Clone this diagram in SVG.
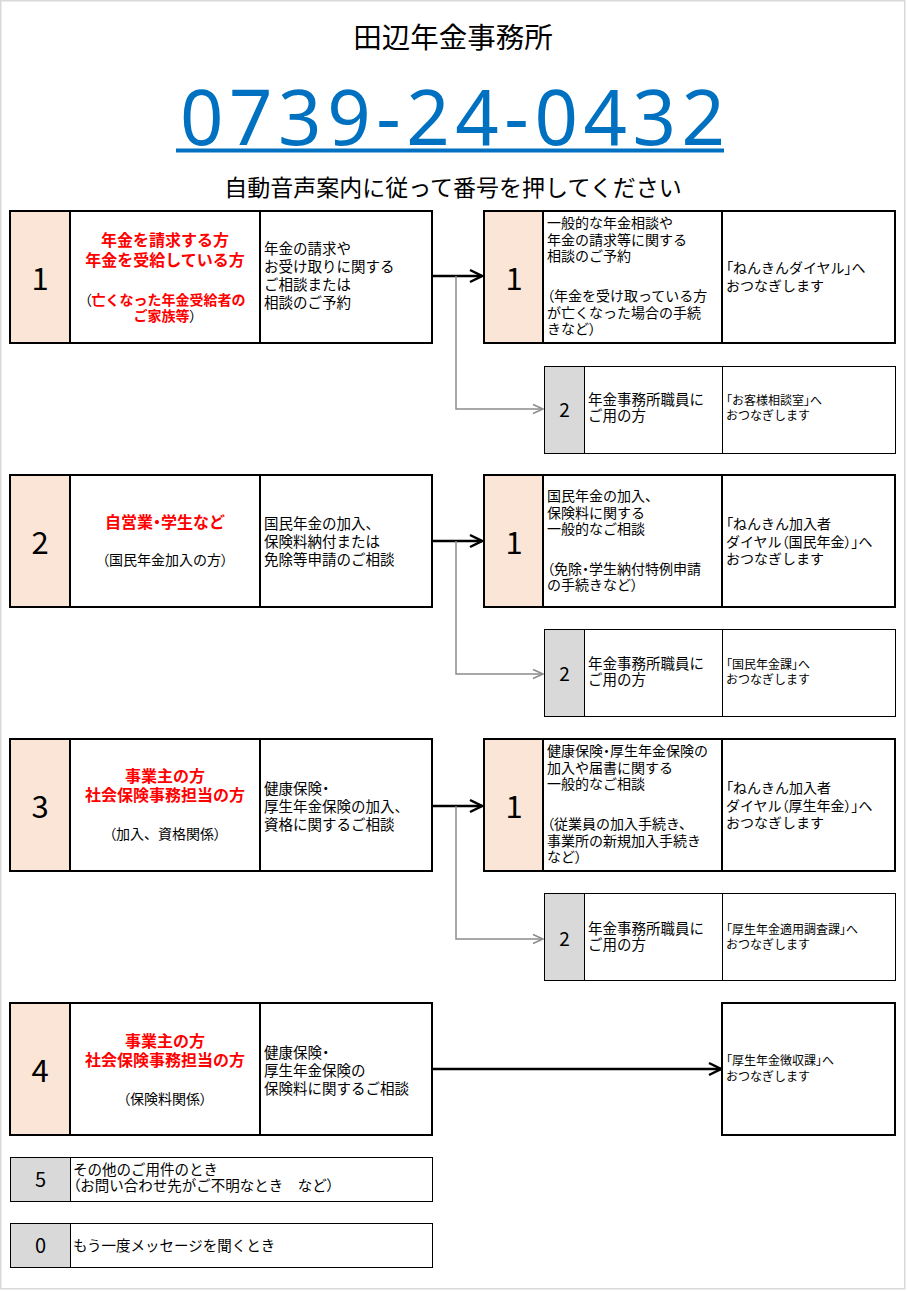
<svg xmlns="http://www.w3.org/2000/svg" width="907" height="1291" viewBox="0 0 907 1291">
<style>
text{font-family:"Noto Sans CJK JP","Noto Sans",sans-serif;fill:#000}
.k{font-feature-settings:"palt"}
.box{fill:#fff;stroke:#000;stroke-width:2}
.sbox{fill:#fff;stroke:#000;stroke-width:1}
.peach{fill:#FBE5D6;stroke:#000;stroke-width:2}
.gray{fill:#D9D9D9;stroke:#000;stroke-width:1}
.div{stroke:#000;stroke-width:2}
.sdiv{stroke:#000;stroke-width:1}
.num{font-size:31px;text-anchor:middle}
.snum{font-size:19px;text-anchor:middle}
.red{font-size:16px;font-weight:bold;fill:#FF0000;text-anchor:middle}
.redp{font-size:14px;font-weight:bold;fill:#FF0000;text-anchor:middle}
.paren{font-weight:normal;fill:#000}
.sub{font-size:14px;text-anchor:middle}
.t{font-size:14.5px}
.r{font-size:14px}
.st{font-size:14.5px}
.s{font-size:12px}
</style>
<defs>
<marker id="ab" markerUnits="userSpaceOnUse" markerWidth="16" markerHeight="16" viewBox="0 0 16 16" refX="14" refY="8" orient="auto">
<path d="M2,2 L14,8 L2,14" fill="none" stroke="#000" stroke-width="2.5"/>
</marker>
<marker id="ag" markerUnits="userSpaceOnUse" markerWidth="14" markerHeight="14" viewBox="0 0 14 14" refX="12" refY="7" orient="auto">
<path d="M2,2.5 L12,7 L2,11.5" fill="none" stroke="#8c8c8c" stroke-width="1.5"/>
</marker>
</defs>
<rect x="0.75" y="0.75" width="904" height="1288" fill="#fff" stroke="#d9d9d9" stroke-width="1.5"/>

<g id="header">
<text x="453" y="48" font-size="28.5" text-anchor="middle">田辺年金事務所</text>
<text x="180" y="145" font-size="76" style="fill:#0070C0;font-family:'Noto Sans',sans-serif" textLength="545" lengthAdjust="spacing">0739-24-0432</text>
<rect x="176" y="148.5" width="548" height="4" fill="#0070C0"/>
<text x="453" y="196" font-size="23" text-anchor="middle">自動音声案内に従って番号を押してください</text>
</g>

<g id="connectors">
<line x1="433" y1="276" x2="482" y2="276" stroke="#000" stroke-width="2.5" marker-end="url(#ab)"/>
<polyline points="456,276 456,409 543,409" fill="none" stroke="#8c8c8c" stroke-width="1.5" marker-end="url(#ag)"/>
<line x1="433" y1="541" x2="482" y2="541" stroke="#000" stroke-width="2.5" marker-end="url(#ab)"/>
<polyline points="456,541 456,674 543,674" fill="none" stroke="#8c8c8c" stroke-width="1.5" marker-end="url(#ag)"/>
<line x1="433" y1="806" x2="482" y2="806" stroke="#000" stroke-width="2.5" marker-end="url(#ab)"/>
<polyline points="456,806 456,939 543,939" fill="none" stroke="#8c8c8c" stroke-width="1.5" marker-end="url(#ag)"/>
<line x1="433" y1="1069" x2="721" y2="1069" stroke="#000" stroke-width="2.5" marker-end="url(#ab)"/>
</g>

<g id="left1">
<rect class="box" x="10" y="211" width="422" height="132"/>
<rect class="peach" x="10" y="211" width="60" height="132"/>
<line class="div" x1="260" y1="211" x2="260" y2="343"/>
<text class="num" x="40" y="290">1</text>
<text class="red" x="165" y="246">年金を請求する方</text>
<text class="red" x="165" y="266">年金を受給している方</text>
<text class="redp" x="165" y="305"><tspan class="paren k">（</tspan>亡くなった年金受給者の</text>
<text class="redp" x="165" y="320.5">ご家族等<tspan class="paren k">）</tspan></text>
<text class="t" x="264" y="254">年金の請求や</text>
<text class="t" x="264" y="272">お受け取りに関する</text>
<text class="t" x="264" y="290">ご相談または</text>
<text class="t" x="264" y="308">相談のご予約</text>
</g>

<g id="right1-1">
<rect class="box" x="484" y="211" width="411" height="132"/>
<rect class="peach" x="484" y="211" width="59" height="132"/>
<line class="div" x1="722" y1="211" x2="722" y2="343"/>
<text class="num" x="514" y="290">1</text>
<text class="r" x="547" y="228">一般的な年金相談や</text>
<text class="r" x="547" y="245">年金の請求等に関する</text>
<text class="r" x="547" y="261">相談のご予約</text>
<text class="r" x="547" y="301"><tspan class="k">（</tspan>年金を受け取っている方</text>
<text class="r" x="547" y="318">が亡くなった場合の手続</text>
<text class="r" x="547" y="334">きなど<tspan class="k">）</tspan></text>
<text class="r" x="726" y="273"><tspan class="k">「</tspan>ねんきんダイヤル<tspan class="k">」</tspan>へ</text>
<text class="r" x="726" y="291">おつなぎします</text>
</g>

<g id="right1-2">
<rect class="sbox" x="544.5" y="366.5" width="351" height="87"/>
<rect class="gray" x="544.5" y="366.5" width="40" height="87"/>
<line class="sdiv" x1="722.5" y1="366.5" x2="722.5" y2="453.5"/>
<text class="snum" x="564.5" y="417">2</text>
<text class="st" x="588" y="405">年金事務所職員に</text>
<text class="st" x="588" y="421">ご用の方</text>
<text class="s" x="726" y="405"><tspan class="k">「</tspan>お客様相談室<tspan class="k">」</tspan>へ</text>
<text class="s" x="726" y="420">おつなぎします</text>
</g>

<g id="left2">
<rect class="box" x="10" y="475" width="422" height="132"/>
<rect class="peach" x="10" y="475" width="60" height="132"/>
<line class="div" x1="260" y1="475" x2="260" y2="607"/>
<text class="num" x="40" y="554">2</text>
<text class="red" x="165" y="528">自営業<tspan class="k">・</tspan>学生など</text>
<text class="sub" x="165" y="565"><tspan class="k">（</tspan>国民年金加入の方<tspan class="k">）</tspan></text>
<text class="t" x="264" y="529">国民年金の加入、</text>
<text class="t" x="264" y="547">保険料納付または</text>
<text class="t" x="264" y="565">免除等申請のご相談</text>
</g>

<g id="right2-1">
<rect class="box" x="484" y="475" width="411" height="132"/>
<rect class="peach" x="484" y="475" width="59" height="132"/>
<line class="div" x1="722" y1="475" x2="722" y2="607"/>
<text class="num" x="514" y="554">1</text>
<text class="r" x="547" y="501">国民年金の加入、</text>
<text class="r" x="547" y="518">保険料に関する</text>
<text class="r" x="547" y="534">一般的なご相談</text>
<text class="r" x="547" y="574"><tspan class="k">（</tspan>免除<tspan class="k">・</tspan>学生納付特例申請</text>
<text class="r" x="547" y="590">の手続きなど<tspan class="k">）</tspan></text>
<text class="r" x="726" y="529"><tspan class="k">「</tspan>ねんきん加入者</text>
<text class="r" x="726" y="547">ダイヤル<tspan class="k">（</tspan>国民年金<tspan class="k">）」</tspan>へ</text>
<text class="r" x="726" y="564">おつなぎします</text>
</g>

<g id="right2-2">
<rect class="sbox" x="544.5" y="629.5" width="351" height="87"/>
<rect class="gray" x="544.5" y="629.5" width="40" height="87"/>
<line class="sdiv" x1="722.5" y1="629.5" x2="722.5" y2="716.5"/>
<text class="snum" x="564.5" y="681">2</text>
<text class="st" x="588" y="669">年金事務所職員に</text>
<text class="st" x="588" y="685">ご用の方</text>
<text class="s" x="726" y="669"><tspan class="k">「</tspan>国民年金課<tspan class="k">」</tspan>へ</text>
<text class="s" x="726" y="684">おつなぎします</text>
</g>

<g id="left3">
<rect class="box" x="10" y="739" width="422" height="132"/>
<rect class="peach" x="10" y="739" width="60" height="132"/>
<line class="div" x1="260" y1="739" x2="260" y2="871"/>
<text class="num" x="40" y="818">3</text>
<text class="red" x="165" y="782">事業主の方</text>
<text class="red" x="165" y="801">社会保険事務担当の方</text>
<text class="sub" x="165" y="839"><tspan class="k">（</tspan>加入、資格関係<tspan class="k">）</tspan></text>
<text class="t" x="264" y="794">健康保険<tspan class="k">・</tspan></text>
<text class="t" x="264" y="812">厚生年金保険の加入、</text>
<text class="t" x="264" y="830">資格に関するご相談</text>
</g>

<g id="right3-1">
<rect class="box" x="484" y="739" width="411" height="132"/>
<rect class="peach" x="484" y="739" width="59" height="132"/>
<line class="div" x1="722" y1="739" x2="722" y2="871"/>
<text class="num" x="514" y="818">1</text>
<text class="r" x="547" y="756">健康保険<tspan class="k">・</tspan>厚生年金保険の</text>
<text class="r" x="547" y="773">加入や届書に関する</text>
<text class="r" x="547" y="789">一般的なご相談</text>
<text class="r" x="547" y="829"><tspan class="k">（</tspan>従業員の加入手続き、</text>
<text class="r" x="547" y="846">事業所の新規加入手続き</text>
<text class="r" x="547" y="862">など<tspan class="k">）</tspan></text>
<text class="r" x="726" y="793"><tspan class="k">「</tspan>ねんきん加入者</text>
<text class="r" x="726" y="811">ダイヤル<tspan class="k">（</tspan>厚生年金<tspan class="k">）」</tspan>へ</text>
<text class="r" x="726" y="828">おつなぎします</text>
</g>

<g id="right3-2">
<rect class="sbox" x="544.5" y="893.5" width="351" height="87"/>
<rect class="gray" x="544.5" y="893.5" width="40" height="87"/>
<line class="sdiv" x1="722.5" y1="893.5" x2="722.5" y2="980.5"/>
<text class="snum" x="564.5" y="946">2</text>
<text class="st" x="588" y="934">年金事務所職員に</text>
<text class="st" x="588" y="950">ご用の方</text>
<text class="s" x="726" y="934"><tspan class="k">「</tspan>厚生年金適用調査課<tspan class="k">」</tspan>へ</text>
<text class="s" x="726" y="949">おつなぎします</text>
</g>

<g id="left4">
<rect class="box" x="10" y="1003" width="422" height="132"/>
<rect class="peach" x="10" y="1003" width="60" height="132"/>
<line class="div" x1="260" y1="1003" x2="260" y2="1135"/>
<text class="num" x="40" y="1082">4</text>
<text class="red" x="165" y="1047">事業主の方</text>
<text class="red" x="165" y="1066">社会保険事務担当の方</text>
<text class="sub" x="165" y="1104"><tspan class="k">（</tspan>保険料関係<tspan class="k">）</tspan></text>
<text class="t" x="264" y="1058">健康保険<tspan class="k">・</tspan></text>
<text class="t" x="264" y="1076">厚生年金保険の</text>
<text class="t" x="264" y="1094">保険料に関するご相談</text>
</g>

<g id="right4">
<rect class="box" x="722" y="1003" width="173" height="132"/>
<text class="s" x="726" y="1065"><tspan class="k">「</tspan>厚生年金徴収課<tspan class="k">」</tspan>へ</text>
<text class="s" x="726" y="1081">おつなぎします</text>
</g>

<g id="opt5">
<rect class="sbox" x="10.5" y="1157.5" width="422" height="44"/>
<rect class="gray" x="10.5" y="1157.5" width="60" height="44"/>
<text x="40.5" y="1187" font-size="20" text-anchor="middle">5</text>
<text class="st" x="73" y="1175">その他のご用件のとき</text>
<text class="st" x="73" y="1191"><tspan class="k">（</tspan>お問い合わせ先がご不明なとき　など<tspan class="k">）</tspan></text>
</g>

<g id="opt0">
<rect class="sbox" x="10.5" y="1223.5" width="422" height="44"/>
<rect class="gray" x="10.5" y="1223.5" width="60" height="44"/>
<text x="40.5" y="1253" font-size="20" text-anchor="middle">0</text>
<text class="st" x="73" y="1251">もう一度メッセージを聞くとき</text>
</g>
</svg>
